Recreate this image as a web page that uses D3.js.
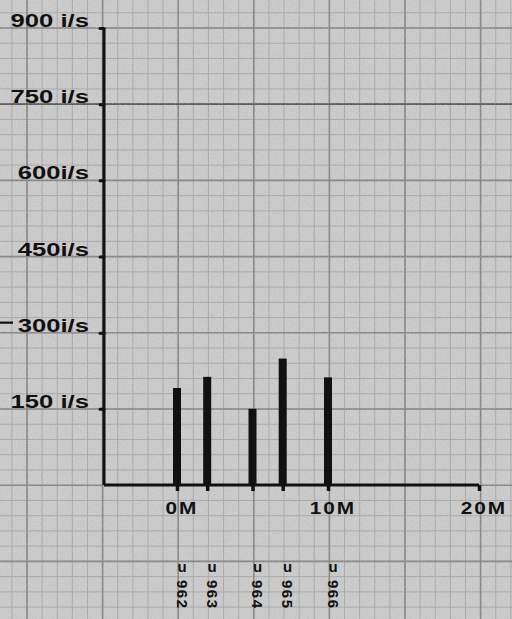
<!DOCTYPE html>
<html><head><meta charset="utf-8">
<script src="https://cdn.jsdelivr.net/npm/d3@7"></script>
<style>html,body{margin:0;padding:0;background:#c8c8c8;overflow:hidden}</style>
</head><body>
<svg id="chart" width="512" height="619"></svg>
<script>
// ---- data ----
const categoryPrefix = ["u", "u", "u", "u", "u"];
const categories = ["962", "963", "964", "965", "966"];
const positionsM = [0, 2, 5, 7, 10];
const values = [191, 213, 150, 249, 212];
const yTickValues = [150, 300, 450, 600, 750, 900];
const yTickLabels = ["150 i/s", "300i/s", "450i/s", "600i/s", "750 i/s", "900 i/s"];
const xTickValues = [0, 10, 20];
const xTickLabels = ["0M", "10M", "20M"];

const W = 512, H = 619;
const svg = d3.select("#chart");
const axisX = 104;

const x = d3.scaleLinear().domain([0, 20]).range([177, 479]);
const y = d3.scaleLinear().domain([0, 900]).range([485, 28]);

// paper
const defs = svg.append("defs");
const f = defs.append("filter").attr("id", "noise").attr("x", 0).attr("y", 0).attr("width", "100%").attr("height", "100%");
f.append("feTurbulence").attr("type", "fractalNoise").attr("baseFrequency", 0.8).attr("numOctaves", 2).attr("seed", 3);
f.append("feColorMatrix").attr("type", "matrix")
  .attr("values", "0 0 0 0 0.45  0 0 0 0 0.45  0 0 0 0 0.45  1.6 0 0 0 -0.62");
svg.append("rect").attr("width", W).attr("height", H).attr("fill", "#cdcdcd");

// graph-paper grid
const gx0 = 27, gstepX = 75.6, gy0 = 28, gstepY = 76.2;
const grid = svg.append("g");
const minorX = d3.range(-1, 40).map(i => gx0 + i * gstepX / 5).filter(v => v > -2 && v < W + 2);
const minorY = d3.range(-5, 45).map(i => gy0 + i * gstepY / 5).filter(v => v > -2 && v < H + 2);
grid.selectAll(".mx").data(minorX).join("line").attr("x1", d => d).attr("x2", d => d).attr("y1", 0).attr("y2", H)
  .attr("stroke", "#aaaaaa").attr("stroke-width", 1);
grid.selectAll(".my").data(minorY).join("line").attr("y1", d => d).attr("y2", d => d).attr("x1", 0).attr("x2", W)
  .attr("stroke", "#aaaaaa").attr("stroke-width", 1);
const majorX = d3.range(-1, 8).map(i => gx0 + i * gstepX).filter(v => v > -2 && v < W + 2);
const majorY = d3.range(-1, 9).map(i => gy0 + i * gstepY).filter(v => v > -2 && v < H + 2);
grid.selectAll(".Mx").data(majorX).join("line").attr("x1", d => d).attr("x2", d => d).attr("y1", 0).attr("y2", H)
  .attr("stroke", "#858585").attr("stroke-width", 1.6);
grid.selectAll(".My").data(majorY).join("line").attr("y1", d => d).attr("y2", d => d).attr("x1", 0).attr("x2", W)
  .attr("stroke", "#858585").attr("stroke-width", 1.6);
// darker ruled line at 750
grid.append("line").attr("x1", 0).attr("x2", W).attr("y1", y(750)).attr("y2", y(750))
  .attr("stroke", "#555").attr("stroke-width", 1.8);
svg.append("rect").attr("width", W).attr("height", H).attr("filter", "url(#noise)").attr("opacity", 0.6);

const ink = "#111";
const font = "Liberation Sans, Arial, sans-serif";

// y axis
const yAxis = d3.axisLeft(y).tickValues(yTickValues).tickSize(4).tickFormat("");
const gY = svg.append("g").attr("transform", `translate(${axisX},0)`).call(yAxis);
gY.select(".domain").attr("d", `M0,${y(900)}V${y(0)}`).attr("stroke", ink).attr("stroke-width", 3);
gY.selectAll(".tick line").attr("stroke", ink).attr("stroke-width", 3).attr("stroke-linecap", "round");

svg.append("g").selectAll("text").data(yTickValues).join("text")
  .attr("transform", d => `translate(89,${y(d) - 1}) scale(1.35,1)`)
  .attr("text-anchor", "end")
  .attr("font-family", font)
  .attr("font-weight", "bold").attr("font-size", 19).attr("fill", ink)
  .text((d, i) => yTickLabels[i]);
// stray dash before 300
svg.append("line").attr("x1", 0).attr("x2", 13).attr("y1", y(300) - 10).attr("y2", y(300) - 10)
  .attr("stroke", ink).attr("stroke-width", 2.2);

// bars
svg.append("g").selectAll("rect").data(values).join("rect")
  .attr("x", (d, i) => x(positionsM[i]) - 4)
  .attr("width", 8)
  .attr("y", d => y(d))
  .attr("height", d => y(0) - y(d))
  .attr("fill", ink);

// x axis
const xAxis = d3.axisBottom(x).tickValues(positionsM.concat([20])).tickSize(6).tickFormat("");
const gX = svg.append("g").attr("transform", `translate(0,${y(0)})`).call(xAxis);
gX.select(".domain").attr("d", `M${axisX},0H${x(20)}`).attr("stroke", ink).attr("stroke-width", 3);
gX.selectAll(".tick line").attr("stroke", ink).attr("stroke-width", 3.5);

svg.append("g").selectAll("text").data(xTickValues).join("text")
  .attr("transform", d => `translate(${x(d) + 5},${y(0) + 29}) scale(1.3,1)`)
  .attr("text-anchor", "middle")
  .attr("font-family", font)
  .attr("font-weight", "bold").attr("font-size", 16).attr("letter-spacing", 1.5).attr("fill", ink)
  .text((d, i) => xTickLabels[i]);

// category labels: upright prefix, rotated number
const lab = svg.append("g").selectAll("g").data(categories).join("g")
  .attr("transform", (d, i) => `translate(${x(positionsM[i]) + 5},0)`);
lab.append("text")
  .attr("y", 572).attr("text-anchor", "middle")
  .attr("transform", "translate(0,0)")
  .attr("font-family", font).attr("font-weight", "bold").attr("font-size", 15).attr("fill", ink)
  .text((d, i) => categoryPrefix[i]);
lab.append("text")
  .attr("transform", "translate(0,580) rotate(90)")
  .attr("dominant-baseline", "central")
  .attr("font-family", font).attr("font-weight", "bold").attr("font-size", 15).attr("letter-spacing", 1.5).attr("fill", ink)
  .text(d => d);
</script>
</body></html>
